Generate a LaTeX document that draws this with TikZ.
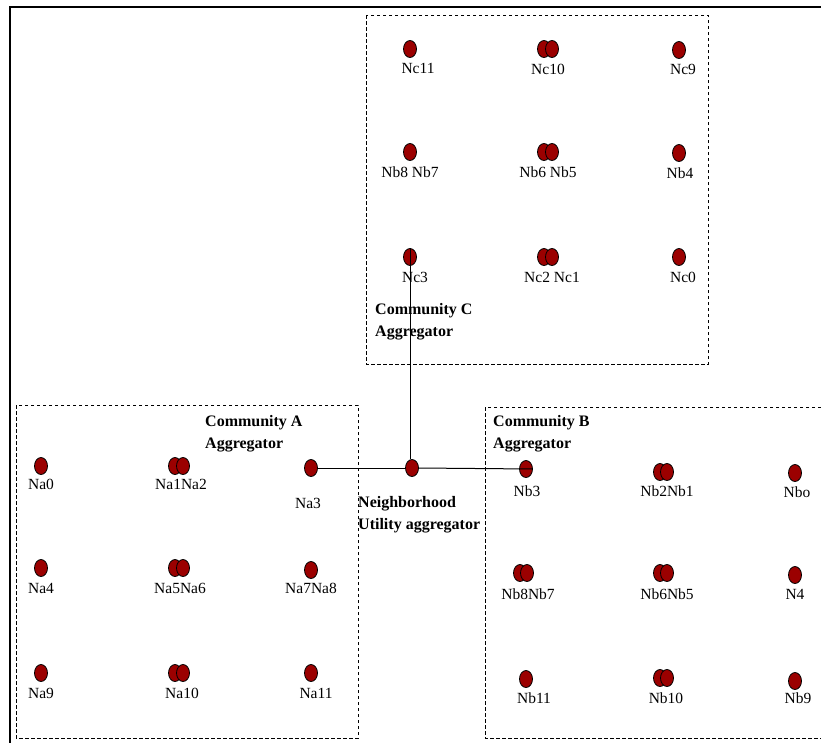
\documentclass[tikz,border=0pt]{standalone}
\usepackage{fontspec}
\setmainfont{Liberation Serif}
\usetikzlibrary{shapes.geometric}
\definecolor{devred}{RGB}{155,0,0}
\tikzset{
  dev/.style={ellipse, draw=black, line width=0.8pt, fill=devred,
              minimum width=13pt, minimum height=17pt, inner sep=0pt},
  lbl/.style={font=\fontsize{15.5}{18}\selectfont, inner sep=0pt, anchor=center},
  agg/.style={font=\fontsize{16}{22}\selectfont\bfseries, align=left,
              inner sep=0pt, anchor=north west},
  zone/.style={draw=black, line width=1pt, dash pattern=on 3.5pt off 2.5pt},
  frame/.style={draw=black, line width=2pt},
  link/.style={draw=black, line width=1pt}
}
\begin{document}
\begin{tikzpicture}[x=1pt, y=-1pt]
\useasboundingbox (0,0) rectangle (821,742);

% outer frame (top and left edges)
\coordinate (ftr) at (840,7);
\coordinate (ftl) at (10,7);
\coordinate (fbl) at (10,760);
\draw[frame] (ftr) -- (ftl) -- (fbl);

% community zones
\draw[zone] (366,15) rectangle (708,364);
\draw[zone] (16,405) rectangle (358,738);
\draw[zone] (485,407) rectangle (826,738);

% ---------- Community C ----------
\node[dev] (nc11) at (410,49) {};
\node[lbl] (lnc11) at (418,68) {Nc11};
\node[dev] (nc10a) at (544,49) {};
\node[dev] (nc10b) at (552,49) {};
\node[lbl] (lnc10) at (548,69) {Nc10};
\node[dev] (nc9) at (679,50) {};
\node[lbl] (lnc9) at (683,69) {Nc9};

\node[dev] (cb8) at (410,152) {};
\node[lbl] (lcb8) at (410,172) {Nb8 Nb7};
\node[dev] (cb6) at (544,152) {};
\node[dev] (cb5) at (552,152) {};
\node[lbl] (lcb6) at (548,172) {Nb6 Nb5};
\node[dev] (cb4) at (679,153) {};
\node[lbl] (lcb4) at (680,173) {Nb4};

\node[dev] (nc3) at (410,257) {};
\node[lbl] (lnc3) at (415,277) {Nc3};
\node[dev] (nc2) at (544,257) {};
\node[dev] (nc1) at (552,257) {};
\node[lbl] (lnc2) at (552,277) {Nc2 Nc1};
\node[dev] (nc0) at (679,257) {};
\node[lbl] (lnc0) at (683,277) {Nc0};

\node[agg] (aggc) at (375,303) {Community C\\Aggregator};

% ---------- Neighborhood hub ----------
\node[dev] (hub) at (412,468) {};
\node[agg] (lhub) at (358,496) {Neighborhood\\Utility aggregator};

% ---------- Community A ----------
\node[dev] (na0) at (41,466) {};
\node[lbl] (lna0) at (41,484) {Na0};
\node[dev] (na1) at (175,466) {};
\node[dev] (na2) at (183,466) {};
\node[lbl] (lna1) at (181,484) {Na1Na2};
\node[dev] (na3) at (311,468) {};
\node[lbl] (lna3) at (308,503) {Na3};

\node[dev] (na4) at (41,568) {};
\node[lbl] (lna4) at (41,588) {Na4};
\node[dev] (na5) at (175,568) {};
\node[dev] (na6) at (183,568) {};
\node[lbl] (lna5) at (180,588) {Na5Na6};
\node[dev] (na7) at (311,570) {};
\node[lbl] (lna7) at (311,588) {Na7Na8};

\node[dev] (na9) at (41,673) {};
\node[lbl] (lna9) at (41,693) {Na9};
\node[dev] (na10a) at (175,673) {};
\node[dev] (na10b) at (183,673) {};
\node[lbl] (lna10) at (182,693) {Na10};
\node[dev] (na11) at (311,673) {};
\node[lbl] (lna11) at (316,693) {Na11};

\node[agg] (agga) at (205,415) {Community A\\Aggregator};

% ---------- Community B ----------
\node[dev] (nb3) at (526,469) {};
\node[lbl] (lnb3) at (527,491) {Nb3};
\node[dev] (nb2) at (660,472) {};
\node[dev] (nb1) at (667,472) {};
\node[lbl] (lnb2) at (667,491) {Nb2Nb1};
\node[dev] (nbo) at (795,473) {};
\node[lbl] (lnbo) at (797,492) {Nbo};

\node[dev] (nb8) at (520,573) {};
\node[dev] (nb7) at (527,573) {};
\node[lbl] (lnb8) at (528,594) {Nb8Nb7};
\node[dev] (nb6) at (660,573) {};
\node[dev] (nb5) at (667,573) {};
\node[lbl] (lnb6) at (667,594) {Nb6Nb5};
\node[dev] (n4) at (795,575) {};
\node[lbl] (ln4) at (795,594) {N4};

\node[dev] (nb11) at (526,679) {};
\node[lbl] (lnb11) at (534,698) {Nb11};
\node[dev] (nb10a) at (660,678) {};
\node[dev] (nb10b) at (667,678) {};
\node[lbl] (lnb10) at (666,698) {Nb10};
\node[dev] (nb9) at (795,681) {};
\node[lbl] (lnb9) at (798,698) {Nb9};

\node[agg] (aggb) at (493,415) {Community B\\Aggregator};

% ---------- aggregator links ----------
\draw[link] (na3.east) -- (hub.west);
\draw[link] (hub.east) -- (nb3.east);
\draw[link] (nc3.north) -- (nc3.north |- hub.north);
\end{tikzpicture}
\end{document}
